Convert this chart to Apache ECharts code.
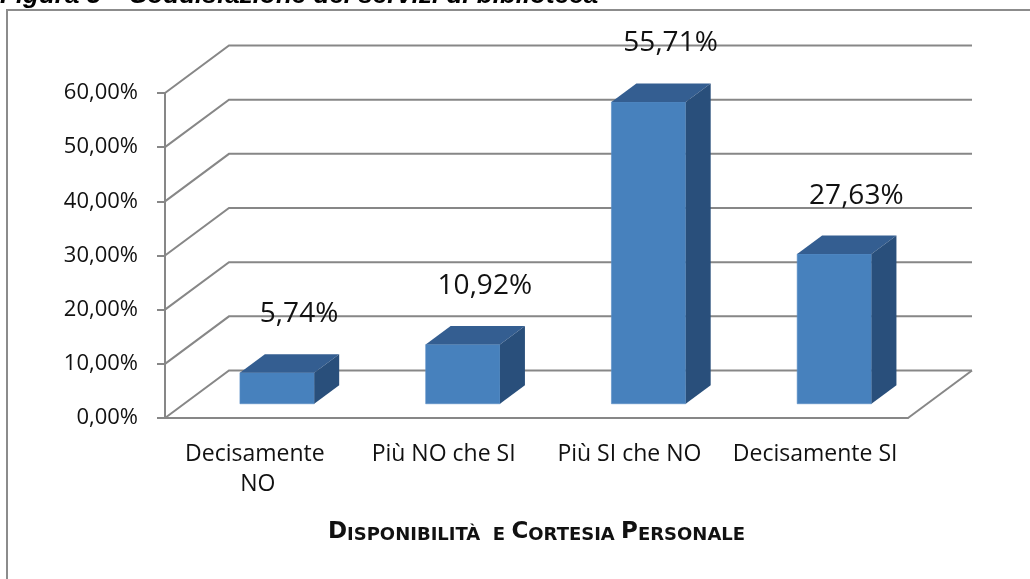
<!DOCTYPE html>
<html>
<head>
<meta charset="utf-8">
<script src="https://cdn.jsdelivr.net/npm/echarts@6/dist/echarts.min.js"></script>
<style>
  html, body { margin: 0; padding: 0; background: #fff; }
  #chart { width: 1030px; height: 579px; }
</style>
</head>
<body>
<div id="chart"></div>
<script>
const categories = ['Decisamente NO', 'Più NO che SI', 'Più SI che NO', 'Decisamente SI']
const values = [5.74, 10.92, 55.71, 27.63]
const yTicks = [0, 10, 20, 30, 40, 50, 60]

const FONT = '"Open Sans", "Noto Sans", sans-serif'
const GRID_COLOR = '#878787'
// pixel offset from the front plane to the back wall (fake 3D)
const DEPTH_X = 64
const DEPTH_Y = -47.5

const fmt = (v) => v.toFixed(2).replace('.', ',') + '%'

const chart = echarts.init(document.getElementById('chart'))

const renderGridLine = (params, api) => {
  const v = api.value(1)
  const cs = params.coordSys
  const p = api.coord([0, v])
  const x0 = cs.x
  const x1 = cs.x + cs.width
  const y = p[1]
  const children = [{
    type: 'polyline',
    shape: { points: [[x0, y], [x0 + DEPTH_X, y + DEPTH_Y], [x1 + DEPTH_X, y + DEPTH_Y]] },
    style: { stroke: GRID_COLOR, lineWidth: 2, fill: null },
  }]
  if (v === 0) {
    children.push({
      type: 'line',
      shape: { x1: x1, y1: y, x2: x1 + DEPTH_X, y2: y + DEPTH_Y },
      style: { stroke: GRID_COLOR, lineWidth: 2 },
    })
  }
  return { type: 'group', children }
}

const renderBar = (params, api) => {
  const i = api.value(0)
  const v = api.value(1)
  const base = api.coord([i, 0])
  const top = api.coord([i, v])
  const band = api.size([1, 0])[0]
  const w = band * 0.4
  const fx = DEPTH_X * 0.3, fy = DEPTH_Y * 0.3
  const bx = DEPTH_X * 0.39, by = DEPTH_Y * 0.39
  const x0 = base[0] + fx - w / 2
  const x1 = x0 + w
  const yb = base[1] + fy
  const yt = top[1] + fy
  return {
    type: 'group',
    children: [
      {
        type: 'polygon',
        shape: { points: [[x0, yt], [x1, yt], [x1, yb], [x0, yb]] },
        style: { fill: '#4781bd', stroke: '#5a8fc6', lineWidth: 0.6 },
      },
      {
        type: 'polygon',
        shape: { points: [[x0, yt], [x0 + bx, yt + by], [x1 + bx, yt + by], [x1, yt]] },
        style: { fill: '#345e91' },
      },
      {
        type: 'polygon',
        shape: { points: [[x1, yt], [x1 + bx, yt + by], [x1 + bx, yb + by], [x1, yb]] },
        style: { fill: '#294f7b' },
      },
      {
        type: 'text',
        style: {
          text: fmt(v),
          x: (x0 + x1) / 2 + 22,
          y: yt + by - 40,
          align: 'center',
          verticalAlign: 'middle',
          font: '28px ' + FONT,
          fill: '#111',
        },
      },
    ],
  }
}

chart.setOption({
  backgroundColor: '#fff',
  animation: false,
  graphic: [
    {
      type: 'rect',
      shape: { x: 7, y: 10, width: 1200, height: 800 },
      style: { fill: null, stroke: '#8c8c8c', lineWidth: 2 },
      z: 0,
    },
    {
      type: 'text',
      x: 0,
      y: 9,
      style: {
        text: 'Figura 5 – Soddisfazione dei servizi di biblioteca',
        font: 'italic bold 26px "Liberation Sans", Arial, sans-serif',
        fill: '#000',
        verticalAlign: 'bottom',
      },
    },
  ],
  grid: { left: 165, right: 122, top: 93, bottom: 161 },
  xAxis: {
    type: 'category',
    data: categories,
    axisLine: { lineStyle: { color: GRID_COLOR, width: 2 } },
    axisTick: { length: 7, lineStyle: { color: GRID_COLOR, width: 2 } },
    axisLabel: {
      interval: 0,
      margin: 21,
      color: '#111',
      fontFamily: FONT,
      fontSize: 23,
      lineHeight: 30,
      width: 172,
      overflow: 'break',
    },
    name: '{big|D}{sm|ISPONIBILITÀ  E }{big|C}{sm|ORTESIA }{big|P}{sm|ERSONALE}',
    nameLocation: 'middle',
    nameGap: 98,
    nameTextStyle: {
      rich: {
        big: { fontFamily: '"DejaVu Sans", sans-serif', fontWeight: 'bold', fontSize: 23, color: '#111', verticalAlign: 'bottom', lineHeight: 28 },
        sm: { fontFamily: '"DejaVu Sans", sans-serif', fontWeight: 'bold', fontSize: 18, color: '#111', verticalAlign: 'bottom', lineHeight: 24 },
      },
    },
  },
  yAxis: {
    type: 'value',
    min: 0,
    max: 60,
    interval: 10,
    axisLine: { show: true, lineStyle: { color: GRID_COLOR, width: 2 } },
    axisTick: { show: true, length: 8, lineStyle: { color: GRID_COLOR, width: 2 } },
    splitLine: { show: false },
    axisLabel: {
      margin: 27,
      color: '#111',
      fontFamily: FONT,
      fontSize: 22,
      formatter: (v) => fmt(v),
    },
  },
  series: [
    {
      name: 'grid3d',
      type: 'custom',
      z: 1,
      silent: true,
      renderItem: renderGridLine,
      data: yTicks.map((v) => [0, v]),
    },
    {
      name: 'Disponibilità e cortesia personale',
      type: 'custom',
      z: 3,
      renderItem: renderBar,
      data: values.map((v, i) => [i, v]),
    },
  ],
})
</script>
</body>
</html>
